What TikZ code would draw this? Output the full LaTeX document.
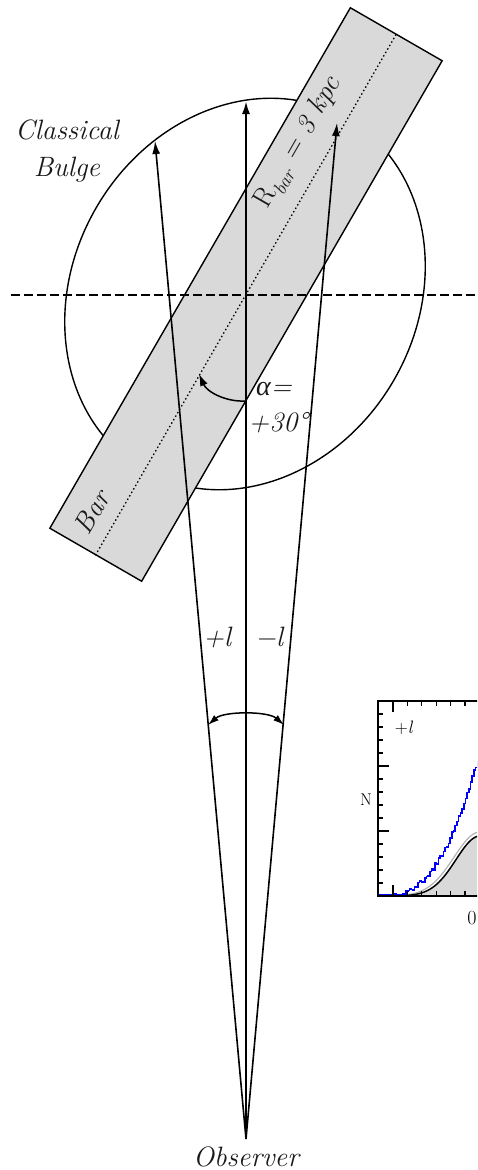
\documentclass[tikz,border=0pt]{standalone}
\usepackage{fontspec}
\newfontfamily\grk{Liberation Serif}
\usetikzlibrary{arrows.meta}
\newcommand{\sublow}[1]{\raisebox{-0.25em}{\fontsize{19}{20}\selectfont\itshape #1}}
\begin{document}
\begin{tikzpicture}[x=1pt,y=-1pt,
  lbl/.style={font=\fontsize{28}{37}\selectfont\itshape, inner sep=0pt, text=black!90},
  sight/.style={line width=1.6pt, -{Latex[length=13pt,width=8pt]}},
  thin arrow/.style={line width=1.5pt},
  frame/.style={line width=1.6pt},
  tick/.style={line width=1.2pt}]
\useasboundingbox (0,0) rectangle (477,1170);
\clip (0,0) rectangle (477,1170);

% classical bulge (ellipse)
\draw[line width=1.4pt, rotate around={60:(245,294)}] (245,294) ellipse [x radius=203, y radius=172];

% bar
\node[draw, fill=gray!30, line width=1.4pt, minimum width=601pt, minimum height=106pt,
      inner sep=0pt, rotate=60] (bar) at (246,294.5) {};
\draw[line width=1.3pt, dash pattern=on 1.5pt off 2.5pt] (bar.west) -- (bar.east);

% dashed horizontal line
\coordinate (dL) at (11,295);
\coordinate (dR) at (477,295);
\draw[line width=1.8pt, dash pattern=on 9pt off 4pt] (dL) -- (dR);

% lines of sight
\coordinate (obs) at (246,1139);
\coordinate (tipC) at (246,101);
\coordinate (tipL) at (155,141);
\coordinate (tipR) at (337,123);
\draw[sight] (obs) -- (tipL);
\draw[sight] (obs) -- (tipR);
\draw[sight, line width=2.2pt] (obs) -- (tipC);

% alpha arc
\coordinate (aS) at (245,401);
\coordinate (aE) at (199,374);
\draw[thin arrow, -{Latex[length=12pt,width=8pt]}] (aS) .. controls (226,402) and (207,392) .. (aE);

% l arc
\coordinate (lL) at (208,725);
\coordinate (lR) at (284,725);
\draw[thin arrow, {Latex[length=11pt,width=7pt]}-{Latex[length=11pt,width=7pt]}] (lL) .. controls (224,711) and (268,711) .. (lR);

% labels
\node[lbl, align=center] (cb) at (67,151) {Classical\\Bulge};
\node[lbl, rotate=60] (rbar) at (299,143) {{\upshape R}\sublow{bar} = 3 kpc};
\node[lbl, rotate=60] (barlbl) at (92,512) {Bar};
\node[lbl] (alab) at (274,389) {{\grk\itshape α}=};
\node[lbl] (alval) at (278,423) {+30°};
\node[lbl] (pl) at (217,637) {+\textit{l}};
\node[lbl] (ml) at (269,637) {−\textit{l}};
\node[lbl] (obslbl) at (246,1157) {Observer};

% inset plot
\fill[gray!30] (378,896) -- plot[domain=378:480,samples=60] (\x,{896-60*exp(-((\x-480)^2)/1152)}) -- (480,896) -- cycle;
\draw[gray!60, line width=1.2pt] plot[domain=380:480,samples=60] (\x,{896-64*exp(-((\x-480)^2)/1352)});
\draw[line width=1.5pt] plot[domain=380:480,samples=60] (\x,{896-60*exp(-((\x-480)^2)/1152)});
\pgfmathsetseed{7}
\draw[blue, line width=1.6pt] plot[const plot, domain=379:479, samples=60] (\x,{min(895, 896-135*(max(\x-380,0.01)/97)^2.6 + 2.2*rand)});
\draw[frame] (378,701) rectangle (530,896);
\foreach \k in {0,...,6} {
  \pgfmathsetmacro{\tx}{393+14.4*\k}
  \ifnum\k=0
    \draw[tick] (\tx,701) -- ++(0,11);
    \draw[tick] (\tx,896) -- ++(0,-11);
  \else
    \draw[tick] (\tx,701) -- ++(0,5);
    \draw[tick] (\tx,896) -- ++(0,-5);
  \fi
}
\foreach \k in {1,...,14} {
  \pgfmathsetmacro{\ty}{896-13*\k}
  \pgfmathtruncatemacro{\m}{mod(\k,5)}
  \ifnum\m=0
    \draw[tick] (378,\ty) -- ++(11,0);
  \else
    \draw[tick] (378,\ty) -- ++(5,0);
  \fi
}
\node[font=\fontsize{17}{20}\selectfont, inner sep=0pt] (nlab) at (366,800) {N};
\node[font=\fontsize{20}{22}\selectfont, inner sep=0pt] (zlab) at (472,918) {0};
\node[font=\fontsize{18}{20}\selectfont, inner sep=0pt] (plab) at (404,728) {+\textit{l}};
\end{tikzpicture}
\end{document}
